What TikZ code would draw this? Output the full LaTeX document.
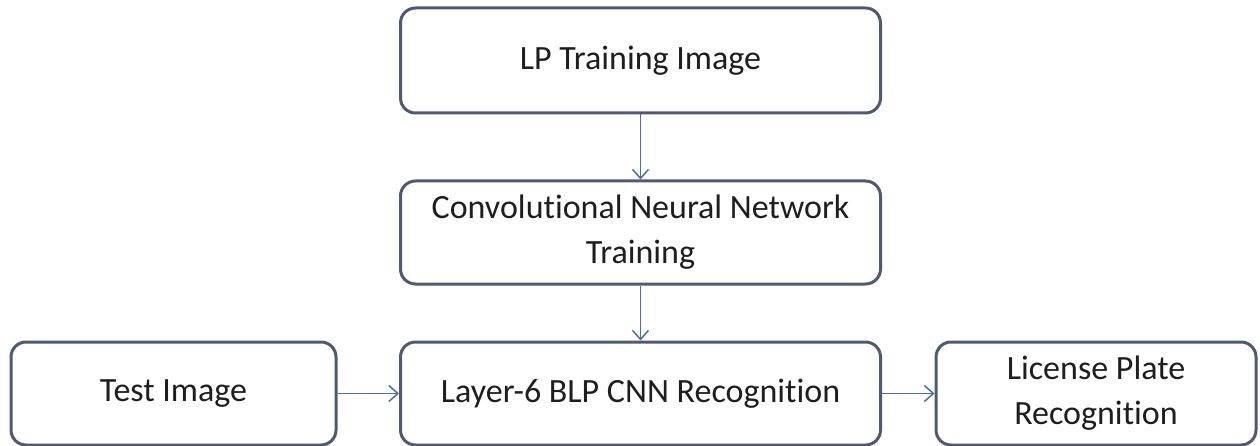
\documentclass[tikz,border=0pt]{standalone}
\usepackage{fontspec}
\setmainfont{Carlito}[Ligatures={NoCommon}, RawFeature={-liga;-clig;-dlig}]
\usetikzlibrary{arrows.meta}
\definecolor{boxline}{RGB}{78,90,116}
\definecolor{arrowcol}{RGB}{74,108,168}
\definecolor{txt}{RGB}{30,30,30}
\begin{document}
\begin{tikzpicture}[x=1pt,y=1pt,
  stepbox/.style={draw=boxline, line width=3pt, rounded corners=15pt, fill=white,
    minimum height=103pt, align=center, text=txt, inner sep=0pt,
    font=\fontsize{34}{45}\selectfont},
  conn/.style={draw=arrowcol, line width=1.5pt, -{Straight Barb[length=9pt,width=16pt,line width=1.5pt]}}]
\useasboundingbox (0,0) rectangle (1260,-446);
\node[stepbox, minimum width=480pt, minimum height=105pt] (top) at (640.5,-60.5) {LP Training Image};
\node[stepbox, minimum width=480pt] (mid) at (640.5,-232.5) {Convolutional Neural Network\\Training};
\node[stepbox, minimum width=480pt] (lay) at (640.5,-393.5) {Layer-6 BLP CNN Recognition};
\node[stepbox, minimum width=325pt] (test) at (173.5,-393.5) {Test Image};
\node[stepbox, minimum width=320pt] (lpr) at (1096,-393.5) {License Plate\\Recognition};
\draw[conn] (top.south) -- (mid.north);
\draw[conn] (mid.south) -- (lay.north);
\draw[conn] (test.east) -- (lay.west);
\draw[conn] (lay.east) -- (lpr.west);
\end{tikzpicture}
\end{document}
